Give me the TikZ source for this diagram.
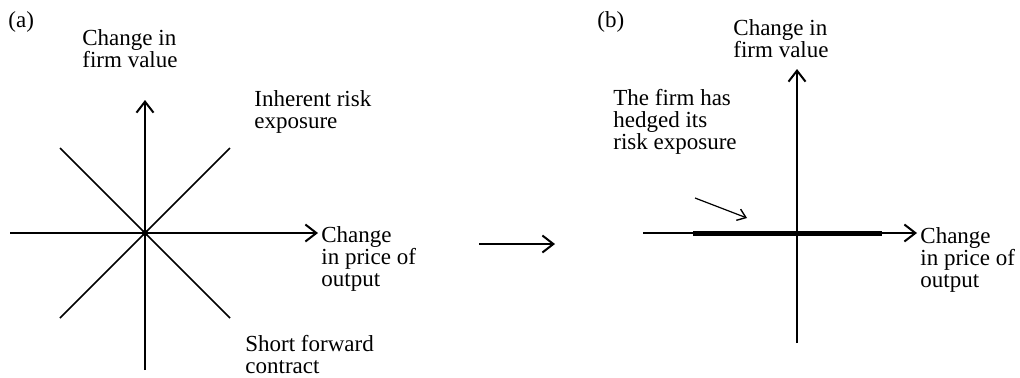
\documentclass[tikz,border=0pt]{standalone}
\usepackage{fontspec}
\setmainfont{Liberation Serif}
\usetikzlibrary{arrows.meta}

\begin{document}
\begin{tikzpicture}[x=0.5pt,y=-0.5pt,
    axis/.style={line width=0.75pt,-{Straight Barb[length=5.5pt,width=8.5pt,line width=1pt]}},
    lbl/.style={anchor=base west,inner sep=0pt,align=left,font=\fontsize{11.5}{11}\selectfont}]
        \useasboundingbox (0,0) rectangle (1020,377);
        % panel (a)
        \coordinate (Oa) at (145,233);
        \coordinate (ya0) at (145,370);
        \coordinate (ya1) at (145,100);
        \coordinate (xa0) at (10,233);
        \coordinate (xa1) at (318,233);
        \coordinate (ne) at (230,148);
        \coordinate (sw) at (60,318);
        \coordinate (nw) at (60,148);
        \coordinate (se) at (230,318);
        \draw[axis] (ya0) -- (ya1);
        \draw[axis] (xa0) -- (xa1);
        \draw[line width=0.75pt] (sw) -- (ne);
        \draw[line width=0.75pt] (nw) -- (se);
        \fill (Oa) circle(1.6pt);
        % base = baseline of the last line
        \node[lbl] (tagA) at (8,27) {(a)};
        \node[lbl] (valA) at (82,67) {Change in\\firm value};
        \node[lbl] (inh) at (254,128) {Inherent risk\\exposure};
        \node[lbl] (prA) at (321,286) {Change\\in price of\\output};
        \node[lbl] (short) at (245,373) {Short forward\\contract};
        % from (a) to (b)
        \coordinate (m0) at (479,244);
        \coordinate (m1) at (555,244);
        \draw[axis] (m0) -- (m1);
        % panel (b)
        \coordinate (yb0) at (797,343);
        \coordinate (yb1) at (797,69);
        \coordinate (xb0) at (643,233);
        \coordinate (xb1) at (917,233);
        \coordinate (h0) at (693,233);
        \coordinate (h1) at (882,233);
        \draw[axis] (yb0) -- (yb1);
        \draw[axis] (xb0) -- (xb1);
        \draw[line width=2.5pt] (h0) -- (h1);
        \node[lbl] (tagB) at (597,27) {(b)};
        \node[lbl] (valB) at (733,57) {Change in\\firm value};
        \node[lbl] (hedge) at (613,149) {The firm has\\hedged its\\risk exposure};
        \node[lbl] (prB) at (920,287) {Change\\in price of\\output};
        \coordinate (p0) at (695,198);
        \coordinate (p1) at (747,218);
        \draw[line width=0.6pt,-{Straight Barb[length=4pt,width=6pt,line width=0.7pt]}] (p0) -- (p1);
      \end{tikzpicture}
\end{document}
